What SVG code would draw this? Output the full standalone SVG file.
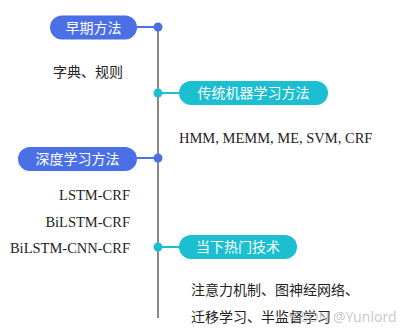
<svg xmlns="http://www.w3.org/2000/svg" width="414" height="333" viewBox="0 0 414 333">
<style>
.cn{font-family:"Noto Sans CJK SC","Noto Sans",sans-serif;font-size:14px;fill:#222}
.lab{font-family:"Noto Sans CJK SC","Noto Sans",sans-serif;font-size:14px;fill:#fff}
.en{font-family:"Liberation Serif","Times New Roman",serif;font-size:14.5px;fill:#222}
.blue{fill:#4b6fe4}
.cyan{fill:#1cbfd0}
.ln{stroke:#888;stroke-width:2;fill:none}
</style>
<rect width="414" height="333" fill="#fff"/>
<g id="connectors">
<line class="ln" x1="158" y1="27" x2="158" y2="318"/>
<line x1="137" y1="27" x2="158" y2="27" stroke="#4b6fe4" stroke-width="2"/>
<line x1="158" y1="93" x2="180" y2="93" stroke="#1cbfd0" stroke-width="2"/>
<line x1="137" y1="158" x2="158" y2="158" stroke="#4b6fe4" stroke-width="2"/>
<line x1="158" y1="247" x2="180" y2="247" stroke="#1cbfd0" stroke-width="2"/>
<circle class="blue" cx="158" cy="27" r="4.5"/>
<circle class="cyan" cx="158" cy="93" r="4.5"/>
<circle class="blue" cx="158" cy="158" r="4.5"/>
<circle class="cyan" cx="158" cy="247" r="4.5"/>
</g>
<g id="node1">
<rect class="blue" x="50" y="15.5" width="87" height="24" rx="12"/>
<text class="lab" x="93.5" y="32.5" text-anchor="middle">早期方法</text>
</g>
<g id="text1">
<text class="cn" x="53" y="77">字典、规则</text>
</g>
<g id="node2">
<rect class="cyan" x="179" y="81" width="149" height="24" rx="12"/>
<text class="lab" x="253.5" y="98" text-anchor="middle">传统机器学习方法</text>
</g>
<g id="text2">
<text class="en" x="179" y="143">HMM, MEMM, ME, SVM, CRF</text>
</g>
<g id="node3">
<rect class="blue" x="18" y="147" width="119" height="24" rx="12"/>
<text class="lab" x="77.5" y="164" text-anchor="middle">深度学习方法</text>
</g>
<g id="text3">
<text class="en" x="130" y="200" text-anchor="end">LSTM-CRF</text>
<text class="en" x="130" y="227" text-anchor="end">BiLSTM-CRF</text>
<text class="en" x="130" y="253" text-anchor="end">BiLSTM-CNN-CRF</text>
</g>
<g id="node4">
<rect class="cyan" x="179" y="235" width="118" height="24" rx="12"/>
<text class="lab" x="238" y="252" text-anchor="middle">当下热门技术</text>
</g>
<g id="text4">
<text class="cn" x="191" y="295">注意力机制、图神经网络、</text>
<text class="cn" x="191" y="322">迁移学习、半监督学习</text>
</g>
<text x="292" y="322" font-family="'Noto Sans',sans-serif" font-size="14" fill="#bbb" fill-opacity="0.8">CSDN @Yunlord</text>
</svg>
